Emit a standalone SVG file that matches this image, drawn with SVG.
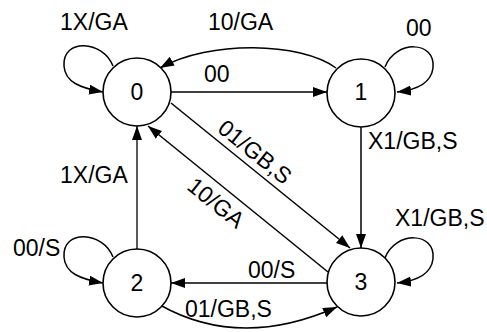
<svg xmlns="http://www.w3.org/2000/svg" width="487" height="332" viewBox="0 0 487 332">
<style>
text{font-family:"Liberation Sans",Arial,sans-serif;font-size:23px;fill:#000}
.n circle{fill:#fff;stroke:#000;stroke-width:1.6}
.n text{text-anchor:middle}
.e path{fill:none;stroke:#000;stroke-width:1.5;marker-end:url(#ah)}
</style>
<defs>
<marker id="ah" markerUnits="userSpaceOnUse" markerWidth="15" markerHeight="11" refX="14" refY="5" orient="auto">
<path d="M0,0 L14,5 L0,10 z" fill="#000"/>
</marker>
</defs>
<g id="edges" class="e">
<path id="e00" d="M113,66 C103,40 62,38 64,66 C65,82 80,88 103,92"/>
<path id="e11" d="M385,67 C395,40 436,40 433,68 C431,84 416,90 397,92"/>
<path id="e22" d="M113,257 C103,231 62,229 64,257 C65,273 80,279 103,283"/>
<path id="e33" d="M385,258 C395,231 436,231 433,259 C431,275 416,281 397,283"/>
<path id="e01" d="M171,92 L327,92" style="stroke-width:1.3"/>
<path id="e10" d="M336,68 C300,42 210,40 160,68"/>
<path id="e13" d="M361,127 L361,248"/>
<path id="e03" d="M171,103 L350,248"/>
<path id="e30" d="M328,272 L148,126"/>
<path id="e20" d="M137,249 L137,126" style="stroke-width:1.3"/>
<path id="e32" d="M327,283 L171,283" style="stroke-width:1.3"/>
<path id="e23" d="M160,305 Q240,350 337,307"/>
</g>
<g id="labels">
<text x="60" y="30">1X/GA</text>
<text x="208" y="30">10/GA</text>
<text x="406" y="36">00</text>
<text x="204" y="82">00</text>
<text x="368" y="149">X1/GB,S</text>
<text x="60" y="183">1X/GA</text>
<text x="13" y="256">00/S</text>
<text x="395" y="226">X1/GB,S</text>
<text x="248" y="278">00/S</text>
<text x="185" y="317">01/GB,S</text>
<text text-anchor="middle" transform="translate(250,158) rotate(39)">01/GB,S</text>
<text text-anchor="middle" transform="translate(211,209) rotate(39)">10/GA</text>
</g>
<g id="node0" class="n"><circle cx="137" cy="92" r="34"/><text x="137" y="100">0</text></g>
<g id="node1" class="n"><circle cx="361" cy="93" r="34"/><text x="361" y="100">1</text></g>
<g id="node2" class="n"><circle cx="137" cy="283" r="34"/><text x="137" y="291">2</text></g>
<g id="node3" class="n"><circle cx="361" cy="282" r="34"/><text x="361" y="290">3</text></g>
</svg>
